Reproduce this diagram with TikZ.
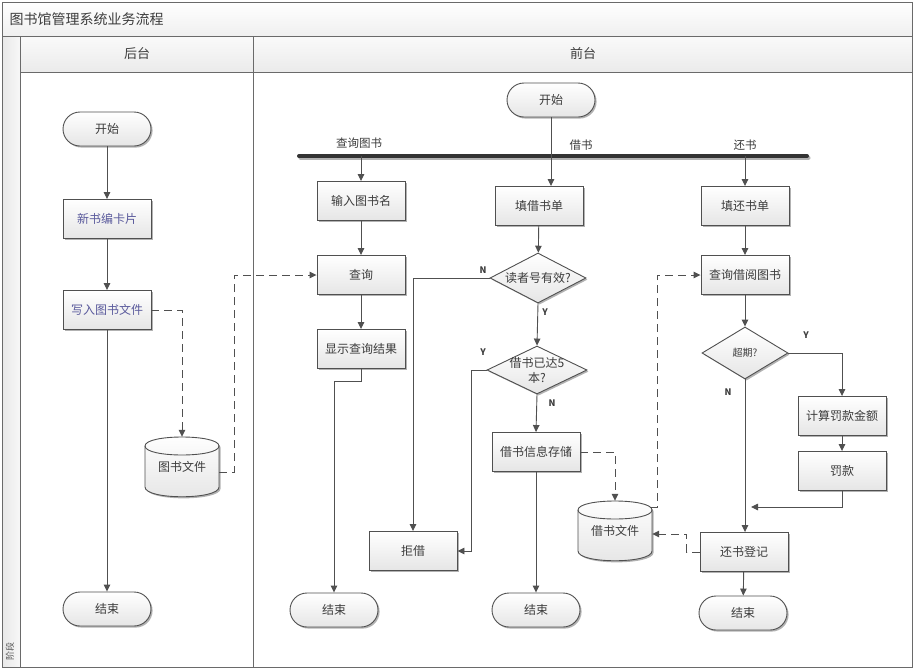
\documentclass[tikz,border=0pt]{standalone}
\usepackage{fontspec}
\setmainfont{Noto Sans CJK SC}
\usetikzlibrary{arrows.meta,shapes.geometric,shadows}

\definecolor{edge}{HTML}{505050}
\definecolor{frame}{HTML}{6A6A6A}
\definecolor{txt}{HTML}{3C3C3C}
\definecolor{bluetxt}{HTML}{5A5A9C}

\tikzset{
  fill grad/.style={top color=white, bottom color=gray!20},
  soft shadow/.style={drop shadow={shadow xshift=1.6pt, shadow yshift=-1.6pt, opacity=0.3, fill=black}},
  base/.style={draw=edge, line width=0.9pt, text=txt, font=\fontsize{12}{14}\selectfont,
               fill grad, soft shadow},
  proc/.style={base, rectangle, minimum width=88pt, minimum height=39pt, inner sep=1pt},
  term/.style={base, rectangle, rounded corners=17pt, minimum width=88pt, minimum height=34pt},
  decide/.style={base, diamond, inner sep=0pt},
  inside/.style={text=txt, font=\fontsize{12}{14}\selectfont, align=center, inner sep=0pt},
  drumtext/.style={inside, minimum width=74pt, minimum height=60pt},
  flow/.style={draw=edge, line width=0.9pt, -{Triangle[length=7pt,width=6.5pt]}},
  plain/.style={draw=edge, line width=0.9pt},
  data/.style={flow, line width=1pt, dash pattern=on 8pt off 5pt},
  yn/.style={font=\fontsize{9}{10}\selectfont\bfseries, text=txt},
  branch/.style={font=\fontsize{11.5}{13}\selectfont, text=txt},
  lanehead/.style={font=\fontsize{13}{15}\selectfont, text=txt},
}

% data store drawn as a drum around a named text node
\newcommand{\drum}[1]{%
  \path[draw=edge, line width=0.9pt, fill grad, soft shadow]
    ([xshift=-37pt,yshift=21pt]#1.center)
      .. controls ([xshift=-37pt,yshift=33pt]#1.center) and ([xshift=37pt,yshift=33pt]#1.center)
      .. ([xshift=37pt,yshift=21pt]#1.center)
    -- ([xshift=37pt,yshift=-20pt]#1.center)
      .. controls ([xshift=37pt,yshift=-33pt]#1.center) and ([xshift=-37pt,yshift=-33pt]#1.center)
      .. ([xshift=-37pt,yshift=-20pt]#1.center)
    -- cycle;
  \draw[edge, line width=0.9pt]
    ([xshift=-37pt,yshift=21pt]#1.center)
      .. controls ([xshift=-37pt,yshift=9pt]#1.center) and ([xshift=37pt,yshift=9pt]#1.center)
      .. ([xshift=37pt,yshift=21pt]#1.center);
}

\begin{document}
\begin{tikzpicture}[x=1pt,y=-1pt]
  \useasboundingbox (0,0) rectangle (914,670);
  \fill[white] (0,0) rectangle (914,670);

  % ---- swimlane frame ----
  \shade[top color=white, bottom color=gray!12] (2,2) rectangle (912,36);
  \shade[left color=gray!18, right color=gray!6] (2,36) rectangle (20,667);
  \shade[top color=gray!4, bottom color=gray!16] (20,36) rectangle (912,72);
  \draw[frame, line width=0.9pt] (2,2) rectangle (912,667);
  \draw[frame, line width=0.9pt] (2,36) -- (912,36);
  \draw[frame, line width=0.9pt] (20,36) -- (20,667);
  \draw[frame, line width=0.9pt] (20,72) -- (912,72);
  \draw[frame, line width=0.9pt] (253,36) -- (253,667);

  \node[anchor=west, text=txt, font=\fontsize{14}{16}\selectfont] (title) at (6,19) {图书馆管理系统业务流程};
  \node[lanehead] (backlane) at (137,54) {后台};
  \node[lanehead] (frontlane) at (583,54) {前台};
  \node[rotate=90, text=gray!70!black, font=\fontsize{9}{10}\selectfont] (stage) at (10,651) {阶段};

  % ---- back office lane ----
  \node[term] (start1) at (107,129) {开始};
  \node[proc, text=bluetxt] (newcard) at (107,219) {新书编卡片};
  \node[proc, text=bluetxt] (writefile) at (107,310) {写入图书文件};
  \node[drumtext] (bookfile) at (182,467) {};
  \drum{bookfile}
  \node[inside] at (bookfile) {图书文件};
  \node[term] (end1) at (107,609) {结束};

  \draw[flow] (start1) -- (newcard);
  \draw[flow] (newcard) -- (writefile);
  \draw[flow] (writefile) -- (end1);
  \draw[data] (writefile.east) -| (bookfile.north);

  % ---- front office lane: fork bar ----
  \node[term] (start2) at (551,100) {开始};
  \coordinate (barL) at (299,156);
  \coordinate (barR) at (807,156);
  \draw[gray!60, line width=4pt, line cap=round] ([xshift=1.5pt,yshift=-1.5pt]barL) -- ([xshift=1.5pt,yshift=-1.5pt]barR);
  \draw[black!80, line width=4pt, line cap=round] (barL) -- (barR);
  \node[branch] (lblquery) at (359,143) {查询图书};
  \node[branch] (lblborrow) at (581,145) {借书};
  \node[branch] (lblreturn) at (745,145) {还书};
  \coordinate (fork) at (start2.south |- barL);
  \draw[plain] (start2.south) -- (fork);

  % query column
  \node[proc] (inputname) at (361,201) {输入图书名};
  \node[proc] (query) at (361,275) {查询};
  \node[proc] (showresult) at (361,349) {显示查询结果};
  \node[term] (end2) at (334,610) {结束};

  % borrow column
  \node[proc] (fillborrow) at (539,206) {填借书单};
  \node[decide, minimum width=96pt, minimum height=50pt] (valid) at (538,278) {};
  \node[inside] at (valid) {读者号有效?};
  \node[decide, minimum width=100pt, minimum height=48pt] (limit5) at (537,370) {};
  \node[inside, font=\fontsize{12}{15}\selectfont] at (limit5) {借书已达5\\本?};
  \node[proc] (storeinfo) at (536,452) {借书信息存储};
  \node[proc] (refuse) at (413,551) {拒借};
  \node[term] (end3) at (536,610) {结束};
  \node[drumtext] (borrowfile) at (615,531) {};
  \drum{borrowfile}
  \node[inside] at (borrowfile) {借书文件};

  % return column
  \node[proc] (fillreturn) at (745,206) {填还书单};
  \node[proc] (querylend) at (745,275) {查询借阅图书};
  \node[decide, minimum width=86pt, minimum height=52pt] (overdue) at (745,353) {};
  \node[inside, font=\fontsize{10}{12}\selectfont] at (overdue) {超期?};
  \node[proc] (calcfine) at (842,416) {计算罚款金额};
  \node[proc] (fine) at (842,471) {罚款};
  \node[proc] (returnreg) at (744,552) {还书登记};
  \node[term] (end4) at (743,613) {结束};
  \coordinate (join) at (751,507);

  % control flow
  \draw[flow] (inputname.north |- barL) -- (inputname);
  \draw[flow] (fork) -- (fork |- fillborrow.north);
  \draw[flow] (fillreturn.north |- barL) -- (fillreturn);

  \draw[flow] (inputname) -- (query);
  \draw[flow] (query) -- (showresult);
  \draw[flow] (showresult.south) -- ++(0,12) -| (end2.north);

  \draw[flow] (fillborrow) -- (valid);
  \draw[flow] (valid.west) -| (refuse.north);
  \draw[flow] (valid.south) -- (limit5.north);
  \draw[flow] (limit5.west) -- ++(-15,0) |- (refuse.east);
  \draw[flow] (limit5.south) -- (storeinfo.north);
  \draw[flow] (storeinfo) -- (end3);

  \draw[flow] (fillreturn) -- (querylend);
  \draw[flow] (querylend) -- (overdue.north);
  \draw[flow] (overdue.east) -| (calcfine.north);
  \draw[flow] (calcfine) -- (fine);
  \draw[flow] (fine.south) |- (join);
  \draw[flow] (overdue.south) -- (overdue.south |- returnreg.north);
  \draw[flow] (returnreg) -- (end4);

  % data flows
  \draw[data] ([yshift=-5pt]bookfile.east) -- ++(15,0) |- (query.west);
  \draw[data] (storeinfo.east) -| (borrowfile.north);
  \draw[data] ([xshift=35pt,yshift=24pt]borrowfile.center) -- ++(7,0) |- (querylend.west);
  \draw[data] (returnreg.west) -- ++(-13,0) |- ([yshift=-3pt]borrowfile.east);

  % branch labels
  \node[yn] (n1) at (483,270) {N};
  \node[yn] (y1) at (545,312) {Y};
  \node[yn] (y2) at (483,352) {Y};
  \node[yn] (n2) at (552,403) {N};
  \node[yn] (y3) at (806,335) {Y};
  \node[yn] (n3) at (728,392) {N};
\end{tikzpicture}
\end{document}
